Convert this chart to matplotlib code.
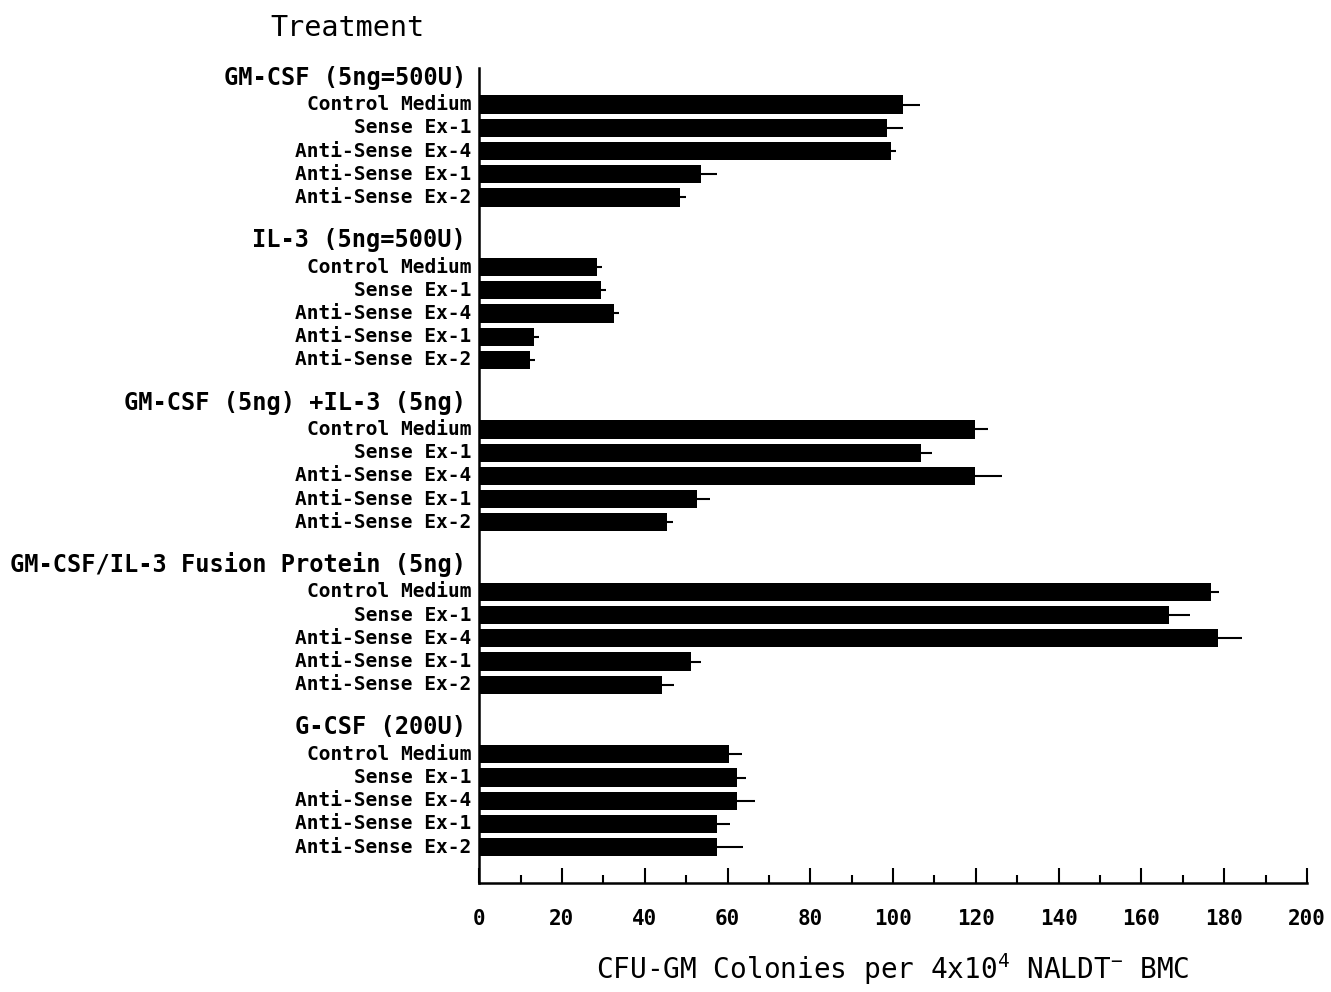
import numpy as np
import matplotlib
matplotlib.use("Agg")
import matplotlib.pyplot as plt
import matplotlib.ticker as ticker
from matplotlib.transforms import blended_transform_factory

plt.rcParams['font.family'] = ['DejaVu Sans Mono', 'DejaVu Sans']
plt.rcParams['mathtext.default'] = 'regular'

groups = ["GM-CSF (5ng=500U)", "IL-3 (5ng=500U)", "GM-CSF (5ng) +IL-3 (5ng)",
          "GM-CSF/IL-3 Fusion Protein (5ng)", "G-CSF (200U)"]
treatments = ["Control Medium", "Sense Ex-1", "Anti-Sense Ex-4",
              "Anti-Sense Ex-1", "Anti-Sense Ex-2"]

# colonies per group, order as in treatments
gm_csf = [102.5, 98.5, 99.5, 53.5, 48.5]
il3 = [28.5, 29.5, 32.5, 13.3, 12.3]
gm_il3 = [119.8, 106.8, 119.8, 52.6, 45.4]
fusion = [176.8, 166.6, 178.6, 51.2, 44.2]
g_csf = [60.3, 62.2, 62.2, 57.5, 57.5]

gm_csf_err = [4.0, 4.0, 1.2, 4.0, 1.5]
il3_err = [1.2, 1.2, 1.2, 1.2, 1.2]
gm_il3_err = [3.2, 2.5, 6.5, 3.2, 1.5]
fusion_err = [2.0, 5.2, 5.8, 2.4, 2.8]
g_csf_err = [3.2, 2.3, 4.5, 3.0, 6.2]

values = [gm_csf, il3, gm_il3, fusion, g_csf]
errors = [gm_csf_err, il3_err, gm_il3_err, fusion_err, g_csf_err]

fig = plt.figure(figsize=(13.31, 9.92), dpi=100)
ax = fig.add_axes([0.36, 0.110, 0.622, 0.821])

step = 7
offset = 1.16
trans = blended_transform_factory(ax.transAxes, ax.transData)
for g, name in enumerate(groups):
    y0 = g * step
    ys = y0 + offset + np.arange(len(treatments))
    ax.barh(ys, values[g], height=0.79, color='black', left=0)
    ax.errorbar(values[g], ys, xerr=[np.zeros(len(ys)), errors[g]],
                fmt='none', ecolor='black', elinewidth=1.5, capsize=0)
    ax.text(-0.016, y0, name, transform=trans, ha='right', va='center',
            fontsize=17, fontweight='bold')
    for y, t in zip(ys, treatments):
        ax.text(-0.0095, y, t, transform=trans, ha='right', va='center',
                fontsize=14, fontweight='bold')

ax.set_xlim(0, 200)
ax.set_ylim(34.7, -0.4)
ax.set_yticks([])
ax.spines['top'].set_visible(False)
ax.spines['right'].set_visible(False)
ax.spines['left'].set_linewidth(1.8)
ax.spines['bottom'].set_linewidth(1.8)

ax.xaxis.set_major_locator(ticker.MultipleLocator(20))
ax.xaxis.set_minor_locator(ticker.MultipleLocator(10))
ax.tick_params(axis='x', which='major', direction='in', length=11, width=1.5,
               pad=19, labelsize=15)
ax.tick_params(axis='x', which='minor', direction='in', length=6, width=1.5)
for lbl in ax.get_xticklabels():
    lbl.set_fontweight('bold')

ax.set_xlabel(r"CFU-GM Colonies per 4x10$^{4}$ NALDT$^{-}$ BMC",
              fontsize=20, labelpad=16)

fig.text(0.261, 0.972, "Treatment", fontsize=20.5, ha='center', va='center')

fig.savefig("out.png", dpi=100)
